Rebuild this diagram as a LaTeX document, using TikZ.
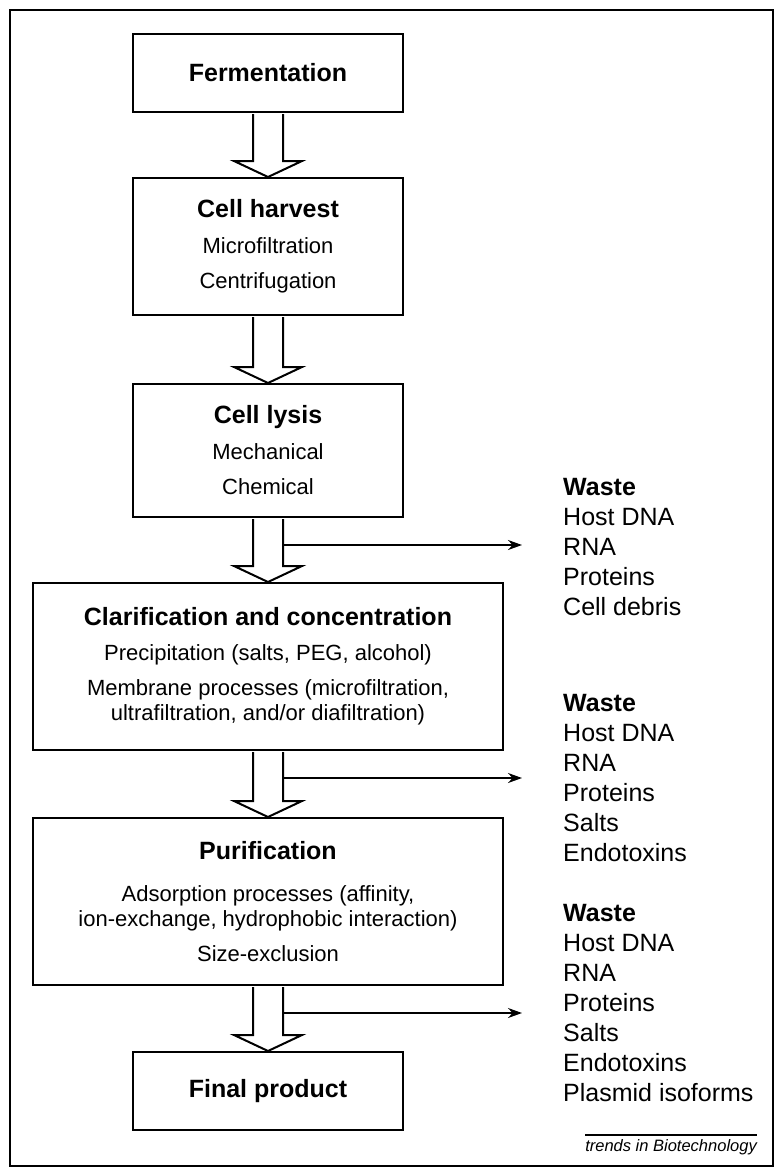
\documentclass[tikz,border=0pt]{standalone}
\usepackage{fontspec}
\setmainfont{Liberation Sans}
\usetikzlibrary{arrows.meta,calc}

\newcommand{\stagetitle}[1]{{\fontsize{25}{25}\selectfont\bfseries #1}}

\tikzset{
  stage/.style={
    shape = rectangle,
    draw,
    line width = 2pt,
    inner sep = 0pt,
    align = center,
    font = \fontsize{22}{25}\selectfont
  },
  blockarrow/.style={
    draw,
    fill = white,
    line width = 2pt
  },
  wastearrow/.style={
    line width = 1.6pt,
    -{Stealth[length=14pt,width=10pt]}
  },
  wastelist/.style={
    anchor = north west,
    inner sep = 0pt,
    align = left,
    font = \fontsize{25}{30}\selectfont
  },
  credit/.style={
    anchor = north east,
    inner sep = 0pt,
    font = \fontsize{16.5}{18}\selectfont\itshape
  }
}

\begin{document}
\begin{tikzpicture}[x=1pt, y=-1pt]
    \def\sw{15}
    \def\hw{34}
    \def\hl{16}
    \useasboundingbox (0,0) rectangle (775,1170);
    \draw[line width=2pt] (10,10) rectangle (773,1166);
    % process stages
    \node[stage, minimum width=270, minimum height=78] (ferm) at (268,73)
        {\stagetitle{Fermentation}};
    \node[stage, minimum width=270, minimum height=137] (harvest) at (268,246.5)
        {\stagetitle{Cell harvest}\\[11pt] Microfiltration\\[10pt] Centrifugation};
    \node[stage, minimum width=270, minimum height=133] (lysis) at (268,450.5)
        {\stagetitle{Cell lysis}\\[11pt] Mechanical\\[10pt] Chemical};
    \node[stage, minimum width=470, minimum height=167] (clarif) at (268,666.5)
        {\stagetitle{Clarification and concentration}\\[10pt]
         Precipitation (salts, PEG, alcohol)\\[10pt]
         Membrane processes (microfiltration,\\
         ultrafiltration, and/or diafiltration)};
    \node[stage, minimum width=470, minimum height=167] (purif) at (268,901.5)
        {\stagetitle{Purification}\\[17pt]
         Adsorption processes (affinity,\\
         ion-exchange, hydrophobic interaction)\\[10pt]
         Size-exclusion};
    \node[stage, minimum width=270, minimum height=78] (final) at (268,1091)
        {\stagetitle{Final product}};
    % hollow arrows between stages
    \foreach \a/\b in {ferm/harvest, harvest/lysis, lysis/clarif, clarif/purif, purif/final} {
        \draw[blockarrow] ($(\a.south)+(-\sw,1)$) -- ($(\b.north)+(-\sw,-\hl)$)
            -- ($(\b.north)+(-\hw,-\hl)$) -- (\b.north) -- ($(\b.north)+(\hw,-\hl)$)
            -- ($(\b.north)+(\sw,-\hl)$) -- ($(\a.south)+(\sw,1)$);
    }
    % waste streams
    \node[wastelist] (waste1) at (563,478)
        {\textbf{Waste}\\ Host DNA\\ RNA\\ Proteins\\ Cell debris};
    \node[wastelist] (waste2) at (563,694)
        {\textbf{Waste}\\ Host DNA\\ RNA\\ Proteins\\ Salts\\ Endotoxins};
    \node[wastelist] (waste3) at (563,904)
        {\textbf{Waste}\\ Host DNA\\ RNA\\ Proteins\\ Salts\\ Endotoxins\\ Plasmid isoforms};
    \foreach \s/\n in {lysis/1, clarif/2, purif/3} {
        \path (\s.south) ++(\sw,27) coordinate (out\n);
        \coordinate (in\n) at ($(out\n)+(239,0)$);
        \draw[wastearrow] (out\n) -- (in\n);
    }
    \node[credit] (credit) at (757,1139) {trends in Biotechnology};
    \draw[line width=1.2pt] ([yshift=4pt]credit.north west) -- ([yshift=4pt]credit.north east);
\end{tikzpicture}
\end{document}
